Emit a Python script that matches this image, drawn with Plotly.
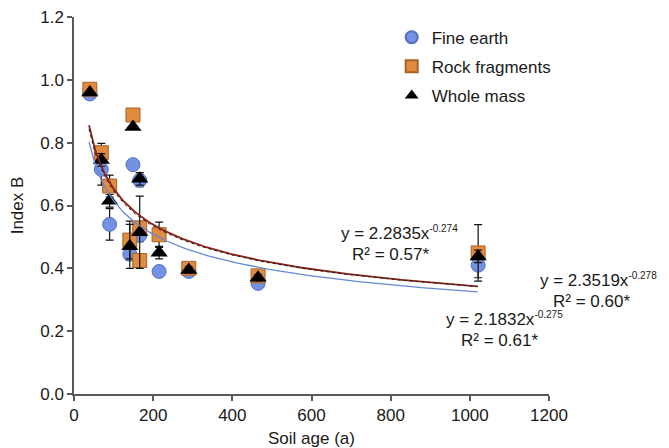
import numpy as np
import plotly.graph_objects as go

# Site data (soil age in years)
ages = [40, 69, 90, 141, 149, 166, 166, 215, 290, 465, 1021]
fine_earth = [0.955, 0.715, 0.54, 0.445, 0.73, 0.68, 0.505, 0.39, 0.39, 0.352, 0.41]
rock_fragments = [0.970, 0.768, 0.662, 0.49, 0.888, 0.425, 0.529, 0.507, 0.40, 0.376, 0.449]
whole_mass = [0.960, 0.745, 0.615, 0.47, 0.85, 0.685, 0.515, 0.45, 0.395, 0.370, 0.438]

fine_earth_err = [0, 0.05, 0.05, 0.02, 0, 0.02, 0.02, 0, 0.01, 0.01, 0.04]
rock_fragments_err = [0, 0.03, 0.035, 0.06, 0, 0, 0.02, 0.04, 0.01, 0.01, 0.09]
whole_mass_err = [0, 0.02, 0.02, 0.07, 0, 0.02, 0.115, 0.02, 0.01, 0.01, 0.02]

# Power-law fit coefficients y = a * x^b
fit_names = ["Fine earth", "Rock fragments", "Whole mass"]
fit_a = [2.1832, 2.3519, 2.2835]
fit_b = [-0.275, -0.278, -0.274]
fit_r2 = ["0.61*", "0.60*", "0.57*"]
fit_range = [38, 1020]

x_ticks = [0, 200, 400, 600, 800, 1000, 1200]
y_ticks = [0.0, 0.2, 0.4, 0.6, 0.8, 1.0, 1.2]

FONT = "Liberation Sans, Arial, sans-serif"
TXT = "#1a1a1a"
AX = "#595959"

fig = go.Figure()

def err(arr):
    return dict(type="data", array=arr, visible=True, color="#111111",
                thickness=1.2, width=4)

fig.add_trace(go.Scatter(
    x=ages, y=fine_earth, mode="markers", name="Fine earth", legendgroup="fe",
    marker=dict(symbol="circle", size=14, color="#7392E3",
                line=dict(color="#5470C0", width=1)),
    error_y=err(fine_earth_err)))
fig.add_trace(go.Scatter(
    x=ages, y=rock_fragments, mode="markers", name="Rock fragments", legendgroup="rf",
    marker=dict(symbol="square", size=14, color="#E08B3E",
                line=dict(color="#A8622A", width=1)),
    error_y=err(rock_fragments_err)))
fig.add_trace(go.Scatter(
    x=ages, y=whole_mass, mode="markers", name="Whole mass", legendgroup="wm",
    marker=dict(symbol="triangle-up", size=15, color="#000000",
                line=dict(color="#000000", width=0)),
    error_y=err(whole_mass_err)))

xs = np.linspace(fit_range[0], fit_range[1], 200)
line_styles = [dict(color="#6488D8", width=1.3),
               dict(color="#8E2318", width=1.8),
               dict(color="#222222", width=1, dash="dot")]
for a, b, st in zip(fit_a, fit_b, line_styles):
    fig.add_trace(go.Scatter(x=xs, y=a * xs ** b, mode="lines",
                             line=st, showlegend=False, hoverinfo="skip"))

# page has an 8px body margin: size the figure to fit the window and
# compensate so the plot lands where the reference has it
OFF = 8
FIG_W, FIG_H = 669 - OFF, 448 - OFF
PX0, PX1, PY0, PY1 = 74.3, 549.3, 394.3, 17.3   # page pixel extents of the axes
L = PX0 - OFF
T = PY1 - OFF
R = FIG_W - (PX1 - OFF)
B = FIG_H - (PY0 - OFF)
W, H = PX1 - PX0, PY0 - PY1

def px(xp):
    return (xp - PX0) / W

def py(yp):
    return (PY0 - yp) / H

# Equation annotations: (x_left_line1, x_left_line2, y_split) in page pixels
eq_pos = [
    (445, 460, 330),   # fine earth
    (539, 552, 291),   # rock fragments
    (340, 351, 244),   # whole mass
]
for a, b, r2, (x1, x2, ys) in zip(fit_a, fit_b, fit_r2, eq_pos):
    fig.add_annotation(x=px(x1), y=py(ys), xref="paper", yref="paper",
                       text=f"y = {a:.4f}x<sup><span style='font-size:10px'>{b:.3f}</span></sup>",
                       showarrow=False, xanchor="left", yanchor="bottom",
                       borderpad=0, font=dict(family=FONT, size=17, color=TXT))
    fig.add_annotation(x=px(x2), y=py(ys), xref="paper", yref="paper",
                       text=f"R² = {r2}",
                       showarrow=False, xanchor="left", yanchor="top",
                       borderpad=0, font=dict(family=FONT, size=17, color=TXT))

fig.update_layout(
    width=FIG_W, height=FIG_H,
    margin=dict(l=L, r=R, t=T, b=B, autoexpand=False),
    paper_bgcolor="white", plot_bgcolor="white",
    font=dict(family=FONT, size=17, color=TXT),
    showlegend=True,
    legend=dict(x=px(392), y=py(20), xanchor="left", yanchor="top",
                bgcolor="rgba(0,0,0,0)", font=dict(family=FONT, size=17, color=TXT),
                tracegroupgap=4, itemsizing="constant"),
    xaxis=dict(range=[0, 1200], tickvals=x_ticks, ticktext=[str(v) for v in x_ticks],
               automargin=False, ticklabeloverflow="allow",
               showgrid=False, zeroline=False, showline=True, linecolor=AX, linewidth=1.5,
               ticks="outside", ticklen=5, tickcolor=AX, tickwidth=1.5,
               tickfont=dict(family=FONT, size=17, color=TXT),
               title=dict(text="Soil age (a)", font=dict(family=FONT, size=17, color=TXT), standoff=8)),
    yaxis=dict(range=[0, 1.2], tickvals=y_ticks, ticktext=[f"{v:.1f}" for v in y_ticks],
               automargin=False, ticklabeloverflow="allow",
               showgrid=False, zeroline=False, showline=True, linecolor=AX, linewidth=1.5,
               ticks="outside", ticklen=5, tickcolor=AX, tickwidth=1.5,
               tickfont=dict(family=FONT, size=17, color=TXT),
               title=dict(text="Index B", font=dict(family=FONT, size=17, color=TXT), standoff=18)),
)

fig.write_html("out.html")
